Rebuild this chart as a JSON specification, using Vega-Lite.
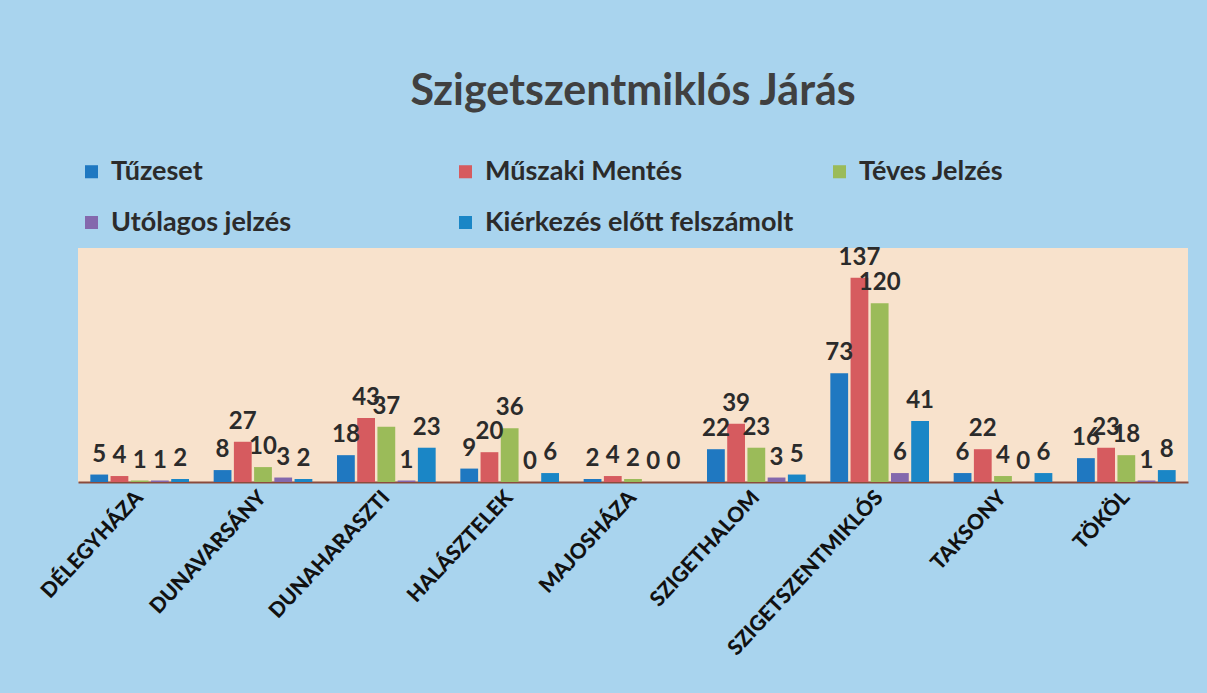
{
  "$schema": "https://vega.github.io/schema/vega-lite/v6.json",
  "width": 1110,
  "height": 234,
  "autosize": {"type": "none"},
  "padding": {"left": 78, "top": 248, "right": 19, "bottom": 211},
  "background": "#a9d4ee",
  "view": {"fill": "#f8e2cc", "stroke": null},
  "title": {
    "text": "Szigetszentmiklós Járás",
    "anchor": "middle",
    "offset": 44,
    "font": "Lato",
    "fontSize": 43,
    "fontWeight": "bold",
    "color": "#404040"
  },
  "data": {
    "values": [
      {"city": "DÉLEGYHÁZA", "type": "Tűzeset", "value": 5},
      {"city": "DÉLEGYHÁZA", "type": "Műszaki Mentés", "value": 4},
      {"city": "DÉLEGYHÁZA", "type": "Téves Jelzés", "value": 1},
      {"city": "DÉLEGYHÁZA", "type": "Utólagos jelzés", "value": 1},
      {"city": "DÉLEGYHÁZA", "type": "Kiérkezés előtt felszámolt", "value": 2},
      {"city": "DUNAVARSÁNY", "type": "Tűzeset", "value": 8},
      {"city": "DUNAVARSÁNY", "type": "Műszaki Mentés", "value": 27},
      {"city": "DUNAVARSÁNY", "type": "Téves Jelzés", "value": 10},
      {"city": "DUNAVARSÁNY", "type": "Utólagos jelzés", "value": 3},
      {"city": "DUNAVARSÁNY", "type": "Kiérkezés előtt felszámolt", "value": 2},
      {"city": "DUNAHARASZTI", "type": "Tűzeset", "value": 18},
      {"city": "DUNAHARASZTI", "type": "Műszaki Mentés", "value": 43},
      {"city": "DUNAHARASZTI", "type": "Téves Jelzés", "value": 37},
      {"city": "DUNAHARASZTI", "type": "Utólagos jelzés", "value": 1},
      {"city": "DUNAHARASZTI", "type": "Kiérkezés előtt felszámolt", "value": 23},
      {"city": "HALÁSZTELEK", "type": "Tűzeset", "value": 9},
      {"city": "HALÁSZTELEK", "type": "Műszaki Mentés", "value": 20},
      {"city": "HALÁSZTELEK", "type": "Téves Jelzés", "value": 36},
      {"city": "HALÁSZTELEK", "type": "Utólagos jelzés", "value": 0},
      {"city": "HALÁSZTELEK", "type": "Kiérkezés előtt felszámolt", "value": 6},
      {"city": "MAJOSHÁZA", "type": "Tűzeset", "value": 2},
      {"city": "MAJOSHÁZA", "type": "Műszaki Mentés", "value": 4},
      {"city": "MAJOSHÁZA", "type": "Téves Jelzés", "value": 2},
      {"city": "MAJOSHÁZA", "type": "Utólagos jelzés", "value": 0},
      {"city": "MAJOSHÁZA", "type": "Kiérkezés előtt felszámolt", "value": 0},
      {"city": "SZIGETHALOM", "type": "Tűzeset", "value": 22},
      {"city": "SZIGETHALOM", "type": "Műszaki Mentés", "value": 39},
      {"city": "SZIGETHALOM", "type": "Téves Jelzés", "value": 23},
      {"city": "SZIGETHALOM", "type": "Utólagos jelzés", "value": 3},
      {"city": "SZIGETHALOM", "type": "Kiérkezés előtt felszámolt", "value": 5},
      {"city": "SZIGETSZENTMIKLÓS", "type": "Tűzeset", "value": 73},
      {"city": "SZIGETSZENTMIKLÓS", "type": "Műszaki Mentés", "value": 137},
      {"city": "SZIGETSZENTMIKLÓS", "type": "Téves Jelzés", "value": 120},
      {"city": "SZIGETSZENTMIKLÓS", "type": "Utólagos jelzés", "value": 6},
      {"city": "SZIGETSZENTMIKLÓS", "type": "Kiérkezés előtt felszámolt", "value": 41},
      {"city": "TAKSONY", "type": "Tűzeset", "value": 6},
      {"city": "TAKSONY", "type": "Műszaki Mentés", "value": 22},
      {"city": "TAKSONY", "type": "Téves Jelzés", "value": 4},
      {"city": "TAKSONY", "type": "Utólagos jelzés", "value": 0},
      {"city": "TAKSONY", "type": "Kiérkezés előtt felszámolt", "value": 6},
      {"city": "TÖKÖL", "type": "Tűzeset", "value": 16},
      {"city": "TÖKÖL", "type": "Műszaki Mentés", "value": 23},
      {"city": "TÖKÖL", "type": "Téves Jelzés", "value": 18},
      {"city": "TÖKÖL", "type": "Utólagos jelzés", "value": 1},
      {"city": "TÖKÖL", "type": "Kiérkezés előtt felszámolt", "value": 8}
    ]
  },
  "encoding": {
    "x": {
      "field": "city",
      "type": "nominal",
      "sort": null,
      "scale": {"paddingInner": 0.2, "paddingOuter": 0.1},
      "axis": {
        "title": null,
        "labelAngle": -47,
        "labelAlign": "right",
        "labelBaseline": "middle",
        "labelFont": "Lato",
        "labelFontSize": 21,
        "labelFontWeight": "900",
        "labelColor": "#111111",
        "labelPadding": 12,
        "labelLimit": 400,
        "ticks": false,
        "domainColor": "#8a4b3c",
        "domainWidth": 2
      }
    },
    "xOffset": {
      "field": "type",
      "type": "nominal",
      "sort": ["Tűzeset", "Műszaki Mentés", "Téves Jelzés", "Utólagos jelzés", "Kiérkezés előtt felszámolt"],
      "scale": {"paddingInner": 0.12}
    },
    "y": {
      "field": "value",
      "type": "quantitative",
      "scale": {"domain": [0, 157]},
      "axis": null
    }
  },
  "layer": [
    {
      "mark": {"type": "bar"},
      "encoding": {
        "color": {
          "field": "type",
          "type": "nominal",
          "scale": {
            "domain": ["Tűzeset", "Műszaki Mentés", "Téves Jelzés", "Utólagos jelzés", "Kiérkezés előtt felszámolt"],
            "range": ["#1f78c1", "#d65b5f", "#9bbb59", "#8468ad", "#1a86c6"]
          },
          "legend": {
            "title": null,
            "orient": "none",
            "legendX": 0,
            "legendY": -90,
            "direction": "horizontal",
            "columns": 3,
            "gridAlign": "all",
            "columnPadding": 32,
            "rowPadding": 23,
            "symbolType": "square",
            "symbolSize": 170,
            "labelFont": "Lato",
            "labelFontSize": 27,
            "labelFontWeight": "bold",
            "labelColor": "#2b2b2b",
            "labelLimit": 400,
            "labelOffset": 6
          }
        }
      }
    },
    {
      "mark": {
        "type": "text",
        "baseline": "bottom",
        "dy": -8,
        "font": "Lato",
        "fontSize": 24,
        "fontWeight": "bold",
        "color": "#2b2b2b"
      },
      "encoding": {
        "text": {"field": "value", "type": "quantitative"}
      }
    }
  ]
}
